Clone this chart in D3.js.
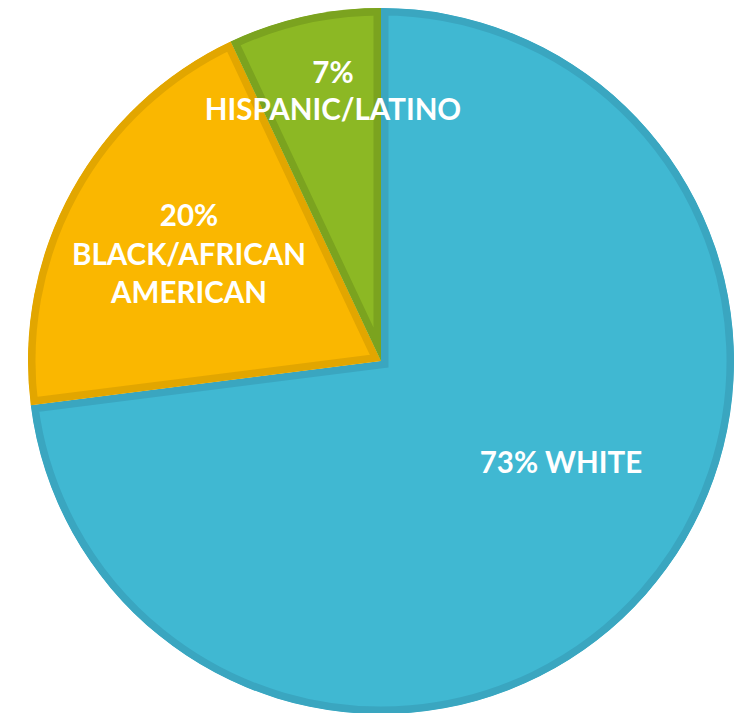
<!DOCTYPE html>
<html><head><meta charset="utf-8">
<script src="https://cdn.jsdelivr.net/npm/d3@7"></script>
<style>body{margin:0;background:#fff;}svg{display:block}</style>
</head><body>
<svg id="chart" width="744" height="713"></svg>
<script>
const categories = ["WHITE", "BLACK/AFRICAN AMERICAN", "HISPANIC/LATINO"];
const values = [73, 20, 7];
const fills = ["#40B8D2", "#FAB700", "#8CB824"];
const borders = ["#3AA6C0", "#E2A600", "#7BA31F"];
const labelLines = [["73% WHITE"], ["20%", "BLACK/AFRICAN", "AMERICAN"], ["7%", "HISPANIC/LATINO"]];

const svg = d3.select("#chart");
const cx = 381, cy = 361, R = 353;
const g = svg.append("g").attr("transform", `translate(${cx},${cy})`);
const pie = d3.pie().sort(null).value(d => d)(values);
const arc = d3.arc().innerRadius(0).outerRadius(R);
const defs = svg.append("defs");
pie.forEach((p, i) => {
  defs.append("clipPath").attr("id", "c" + i).append("path").attr("d", arc(p));
  g.append("path").attr("d", arc(p)).attr("fill", fills[i])
    .attr("stroke", borders[i]).attr("stroke-width", 15).attr("stroke-linejoin", "miter")
    .attr("clip-path", `url(#c${i})`);
});
const font = "Lato, 'Open Sans', sans-serif";
const labelPos = [{x: 561, y: 473, lh: 38}, {x: 189, y: 226, lh: 38.5}, {x: 333, y: 83, lh: 37}];
labelLines.forEach((lines, i) => {
  const t = g.append("text").attr("text-anchor", "middle").attr("fill", "#fff")
    .attr("font-family", font).attr("font-weight", "bold").attr("font-size", 29.5);
  lines.forEach((l, j) => {
    t.append("tspan").attr("x", labelPos[i].x - cx).attr("y", labelPos[i].y - cy + j * labelPos[i].lh).text(l);
  });
});
</script>
</body></html>
